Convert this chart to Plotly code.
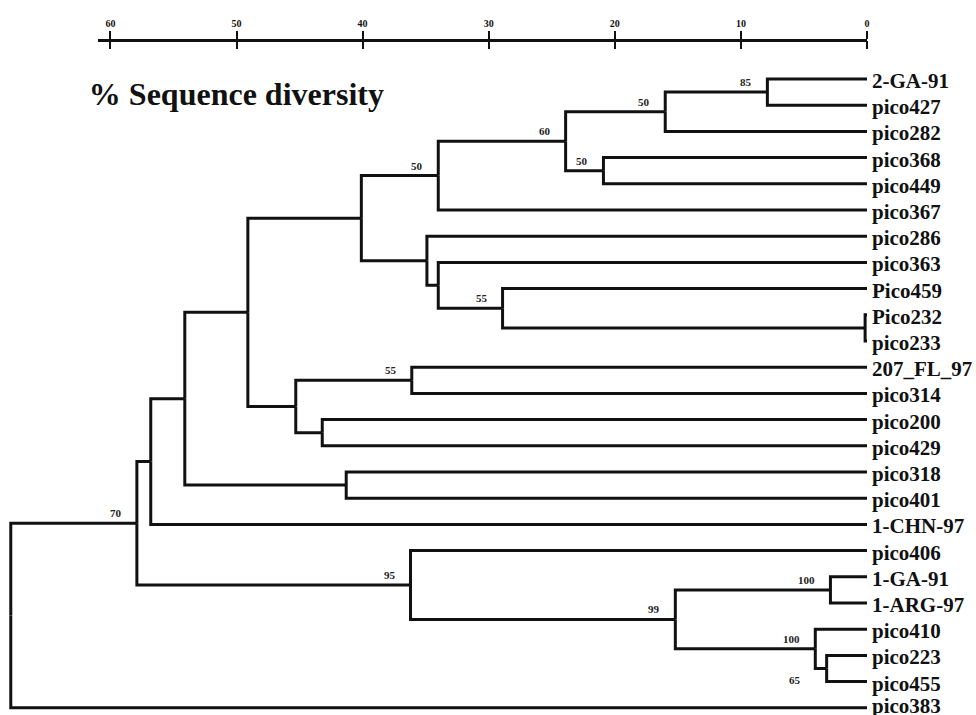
import plotly.graph_objects as go

# ---------------- data ----------------
leaves = ["2-GA-91", "pico427", "pico282", "pico368", "pico449", "pico367",
          "pico286", "pico363", "Pico459", "Pico232", "pico233", "207_FL_97",
          "pico314", "pico200", "pico429", "pico318", "pico401", "1-CHN-97",
          "pico406", "1-GA-91", "1-ARG-97", "pico410", "pico223", "pico455",
          "pico383"]

# internal nodes (children listed before parents)
node_names = ["A", "B", "C", "D", "E", "F", "G", "H", "I", "J", "K", "L", "N",
              "M", "O", "P", "Q", "U", "W", "V", "T", "S", "R", "ROOT"]
node_child1 = ["2-GA-91", "A", "pico368", "B", "D", "Pico232", "Pico459",
               "pico363", "pico286", "E", "207_FL_97", "pico200", "K", "J",
               "pico318", "M", "P", "1-GA-91", "pico223", "pico410", "U",
               "pico406", "Q", "R"]
node_child2 = ["pico427", "pico282", "pico449", "C", "pico367", "pico233", "F",
               "G", "H", "I", "pico314", "pico429", "L", "N", "pico401", "O",
               "1-CHN-97", "1-ARG-97", "pico455", "W", "V", "T", "S", "pico383"]
# % sequence diversity at each node
node_dist = [7.9, 16.0, 20.9, 23.9, 34.0, 0.15, 28.9, 34.0, 34.9, 40.1, 36.1,
             43.2, 45.3, 49.1, 41.3, 54.1, 56.8, 2.9, 3.2, 4.1, 15.2, 36.2,
             57.9, 67.9]
node_support = ["85", "50", "50", "60", "50", "", "55", "", "", "", "55", "",
                "", "", "", "", "", "100", "65", "100", "99", "95", "70", ""]

scale_ticks = [60, 50, 40, 30, 20, 10, 0]
title_text = "% Sequence diversity"

# ---------------- geometry from the tree ----------------
ypos = {name: float(i) for i, name in enumerate(leaves)}
xpos = {name: 0.0 for name in leaves}
for n, c1, c2, d in zip(node_names, node_child1, node_child2, node_dist):
    ypos[n] = (ypos[c1] + ypos[c2]) / 2.0
    xpos[n] = d

xs, ys = [], []
for n, c1, c2 in zip(node_names, node_child1, node_child2):
    for c in (c1, c2):
        xs += [xpos[n], xpos[n], xpos[c], None]
        ys += [ypos[n], ypos[c], ypos[c], None]

FONT = "Liberation Serif, Times New Roman, serif"
W, H = 976, 715
PLOT_R = 867           # pixel where 0 % sits
PPU = 12.61            # pixels per % unit
TOP_Y, STEP = 79.0, 26.2
x_left = PLOT_R / PPU
y_top = -TOP_Y / STEP
y_bot = (H - TOP_Y) / STEP

fig = go.Figure()
fig.add_trace(go.Scatter(x=xs, y=ys, mode="lines",
                         line=dict(color="#111111", width=3),
                         hoverinfo="skip", showlegend=False))
# helper traces so scale-bar axes exist
fig.add_trace(go.Scatter(x=[scale_ticks[0], scale_ticks[-1]], y=[None, None],
                         xaxis="x2", yaxis="y", mode="lines",
                         showlegend=False, hoverinfo="skip"))
fig.add_trace(go.Scatter(x=[scale_ticks[0], scale_ticks[-1]], y=[None, None],
                         xaxis="x3", yaxis="y", mode="lines",
                         showlegend=False, hoverinfo="skip"))

annotations = []
last = leaves[-1]
for name in leaves:
    annotations.append(dict(x=0, y=ypos[name], xref="x", yref="y", text=name,
                            showarrow=False, xanchor="left", yanchor="middle",
                            xshift=3, yshift=2 if name == last else -2,
                            font=dict(family=FONT, size=21, color="#111111",
                                      weight="bold")))
for n, s in zip(node_names, node_support):
    if not s:
        continue
    below = (n == "W")
    annotations.append(dict(x=xpos[n], y=ypos[n], xref="x", yref="y", text=s,
                            showarrow=False, xanchor="right", yanchor="middle",
                            xshift=-24 if below else -13,
                            yshift=-11 if below else 10,
                            font=dict(family=FONT, size=11, color="#222222",
                                      weight="bold")))

scale_pos = 1 - 40.0 / H
bar_start = 61.0
dom0 = (PLOT_R - bar_start * PPU) / PLOT_R

fig.update_layout(
    width=W, height=H,
    margin=dict(l=0, r=W - PLOT_R, t=0, b=0),
    paper_bgcolor="white", plot_bgcolor="rgba(0,0,0,0)",
    showlegend=False,
    title=dict(text=title_text, x=100 / W, xanchor="left", xref="paper",
               y=1 - 94.0 / H, yanchor="middle", yref="container",
               font=dict(family=FONT, size=32, color="#111111", weight="bold")),
    xaxis=dict(range=[x_left, 0], visible=False, domain=[0, 1]),
    yaxis=dict(range=[y_bot, y_top], visible=False),
    xaxis2=dict(range=[bar_start, 0], domain=[dom0, 1], anchor="free",
                position=scale_pos, side="top", showline=True, linewidth=3,
                linecolor="#111111", ticks="outside", ticklen=8, tickwidth=2,
                tickcolor="#111111", tickvals=scale_ticks,
                ticktext=[str(t) for t in scale_ticks], showgrid=False,
                zeroline=False,
                tickfont=dict(family=FONT, size=10, color="#111111",
                              weight="bold")),
    xaxis3=dict(range=[bar_start, 0], domain=[dom0, 1], anchor="free",
                position=scale_pos, side="bottom", showline=False,
                ticks="outside", ticklen=8, tickwidth=2, tickcolor="#111111",
                tickvals=scale_ticks, showticklabels=False, showgrid=False,
                zeroline=False),
    annotations=annotations,
)

fig.write_html("out.html", config={"displayModeBar": False},
               post_script="document.body.style.margin='0px';"
                           "document.body.style.padding='0px';")
